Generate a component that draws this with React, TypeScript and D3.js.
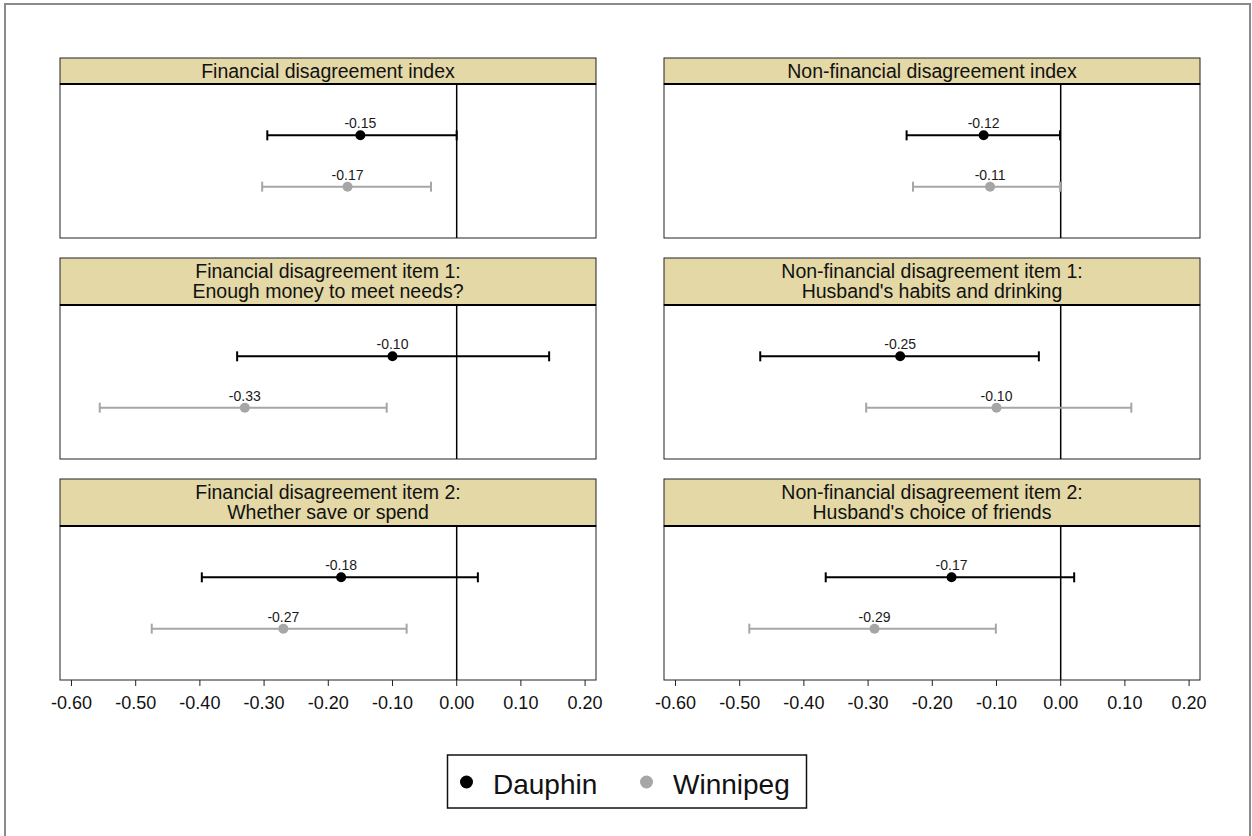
import React from "react";
import * as d3 from "d3";

// Panel titles (row-major: left column = financial, right column = non-financial)
const panelTitles: string[][] = [
  ["Financial disagreement index"],
  ["Non-financial disagreement index"],
  ["Financial disagreement item 1:", "Enough money to meet needs?"],
  ["Non-financial disagreement item 1:", "Husband's habits and drinking"],
  ["Financial disagreement item 2:", "Whether save or spend"],
  ["Non-financial disagreement item 2:", "Husband's choice of friends"],
];

const groups = ["Dauphin", "Winnipeg"];

// Point estimates and 95% confidence bounds
const dauphinEst = [-0.15, -0.12, -0.1, -0.25, -0.18, -0.17];
const dauphinLo = [-0.295, -0.24, -0.342, -0.468, -0.397, -0.366];
const dauphinHi = [0.0, -0.001, 0.144, -0.034, 0.033, 0.021];

const winnipegEst = [-0.17, -0.11, -0.33, -0.1, -0.27, -0.29];
const winnipegLo = [-0.303, -0.23, -0.556, -0.303, -0.475, -0.485];
const winnipegHi = [-0.04, -0.001, -0.109, 0.11, -0.078, -0.101];

const tickValues = [-0.6, -0.5, -0.4, -0.3, -0.2, -0.1, 0.0, 0.1, 0.2];

const W = 1252;
const H = 836;
const colX = [60, 664];
const panelW = 536;
const rowTop = [58, 258, 479];
const headerH = [26, 47, 47];
const plotH = 154;
const groupColors = ["#000000", "#a6a6a6"];
const headerFill = "#e3d8a6";
const FONT = "Arial, 'Liberation Sans', Helvetica, sans-serif";

const fmt = (v: number) => d3.format(".2f")(v).replace("\u2212", "-");

const x = d3.scaleLinear().domain([-0.6179, 0.217]).range([0, panelW]);
const y = d3.scalePoint<string>().domain(groups).range([0, plotH]).padding(1);

function SText(props: {
  x: number;
  y: number;
  size: number;
  anchor?: string;
  fill?: string;
  children: React.ReactNode;
}) {
  const { x: tx, y: ty, size, anchor = "middle", fill = "#111", children } = props;
  return (
    <text
      x={tx}
      y={ty}
      textAnchor={anchor as any}
      fontSize={size}
      fontFamily={FONT}
      fill={fill}
    >
      {children}
    </text>
  );
}

function Panel({ idx }: { idx: number }) {
  const col = idx % 2;
  const row = Math.floor(idx / 2);
  const left = colX[col];
  const top = rowTop[row];
  const hh = headerH[row];
  const plotTop = top + hh;
  const lines = panelTitles[idx];
  const series = [
    { est: dauphinEst[idx], lo: dauphinLo[idx], hi: dauphinHi[idx], color: groupColors[0], g: groups[0] },
    { est: winnipegEst[idx], lo: winnipegLo[idx], hi: winnipegHi[idx], color: groupColors[1], g: groups[1] },
  ];
  const showAxis = row === 2;
  return (
    <g>
      {/* header strip */}
      <rect x={left} y={top} width={panelW} height={hh} fill={headerFill} stroke="#222" strokeWidth={1} />
      {lines.map((ln, i) => (
        <SText
          key={i}
          x={left + panelW / 2}
          y={top + (lines.length === 1 ? 20 : 20 + i * 19.5)}
          size={19.5}
        >
          {ln}
        </SText>
      ))}
      {/* plot frame */}
      <rect x={left} y={plotTop} width={panelW} height={plotH} fill="#fff" stroke="#222" strokeWidth={1} />
      <line x1={left} x2={left + panelW} y1={plotTop} y2={plotTop} stroke="#000" strokeWidth={2} />
      {/* zero reference line */}
      <line
        x1={left + x(0)}
        x2={left + x(0)}
        y1={plotTop}
        y2={plotTop + plotH}
        stroke="#000"
        strokeWidth={1.5}
      />
      {series.map((s, i) => {
        const cy = plotTop + (y(s.g) as number);
        const x1 = left + x(s.lo);
        const x2 = left + x(s.hi);
        const cx = left + x(s.est);
        return (
          <g key={i}>
            <line x1={x1} x2={x2} y1={cy} y2={cy} stroke={s.color} strokeWidth={2} />
            <line x1={x1} x2={x1} y1={cy - 5} y2={cy + 5} stroke={s.color} strokeWidth={2} />
            <line x1={x2} x2={x2} y1={cy - 5} y2={cy + 5} stroke={s.color} strokeWidth={2} />
            <circle cx={cx} cy={cy} r={5} fill={s.color} />
            <SText x={cx} y={cy - 7} size={14} fill="#1a1a1a">
              {fmt(s.est)}
            </SText>
          </g>
        );
      })}
      {showAxis &&
        tickValues.map((t) => {
          const tx = left + x(t);
          const ay = plotTop + plotH;
          return (
            <g key={t}>
              <line x1={tx} x2={tx} y1={ay} y2={ay + 6} stroke="#222" strokeWidth={1} />
              <SText x={tx} y={ay + 28.5} size={18}>
                {fmt(t)}
              </SText>
            </g>
          );
        })}
    </g>
  );
}

export default function App() {
  return (
    <svg
      width={W}
      height={H}
      style={{ position: "absolute", left: 0, top: 0, background: "#fff" }}
    >
      <rect x={0} y={0} width={W} height={H} fill="#fff" />
      <rect x={5} y={4} width={1245} height={850} fill="none" stroke="#8a8a8a" strokeWidth={2} />
      {panelTitles.map((_, i) => (
        <Panel key={i} idx={i} />
      ))}
      {/* legend */}
      <g>
        <rect x={447.5} y={755} width={359} height={53} fill="#fff" stroke="#111" strokeWidth={1.5} />
        {groups.map((g, i) => {
          const lx = i === 0 ? 466.5 : 646.5;
          return (
            <g key={g}>
              <circle cx={lx} cy={782} r={6.5} fill={groupColors[i]} />
              <SText x={lx + 26.5} y={794} size={28} anchor="start">
                {g}
              </SText>
            </g>
          );
        })}
      </g>
    </svg>
  );
}
